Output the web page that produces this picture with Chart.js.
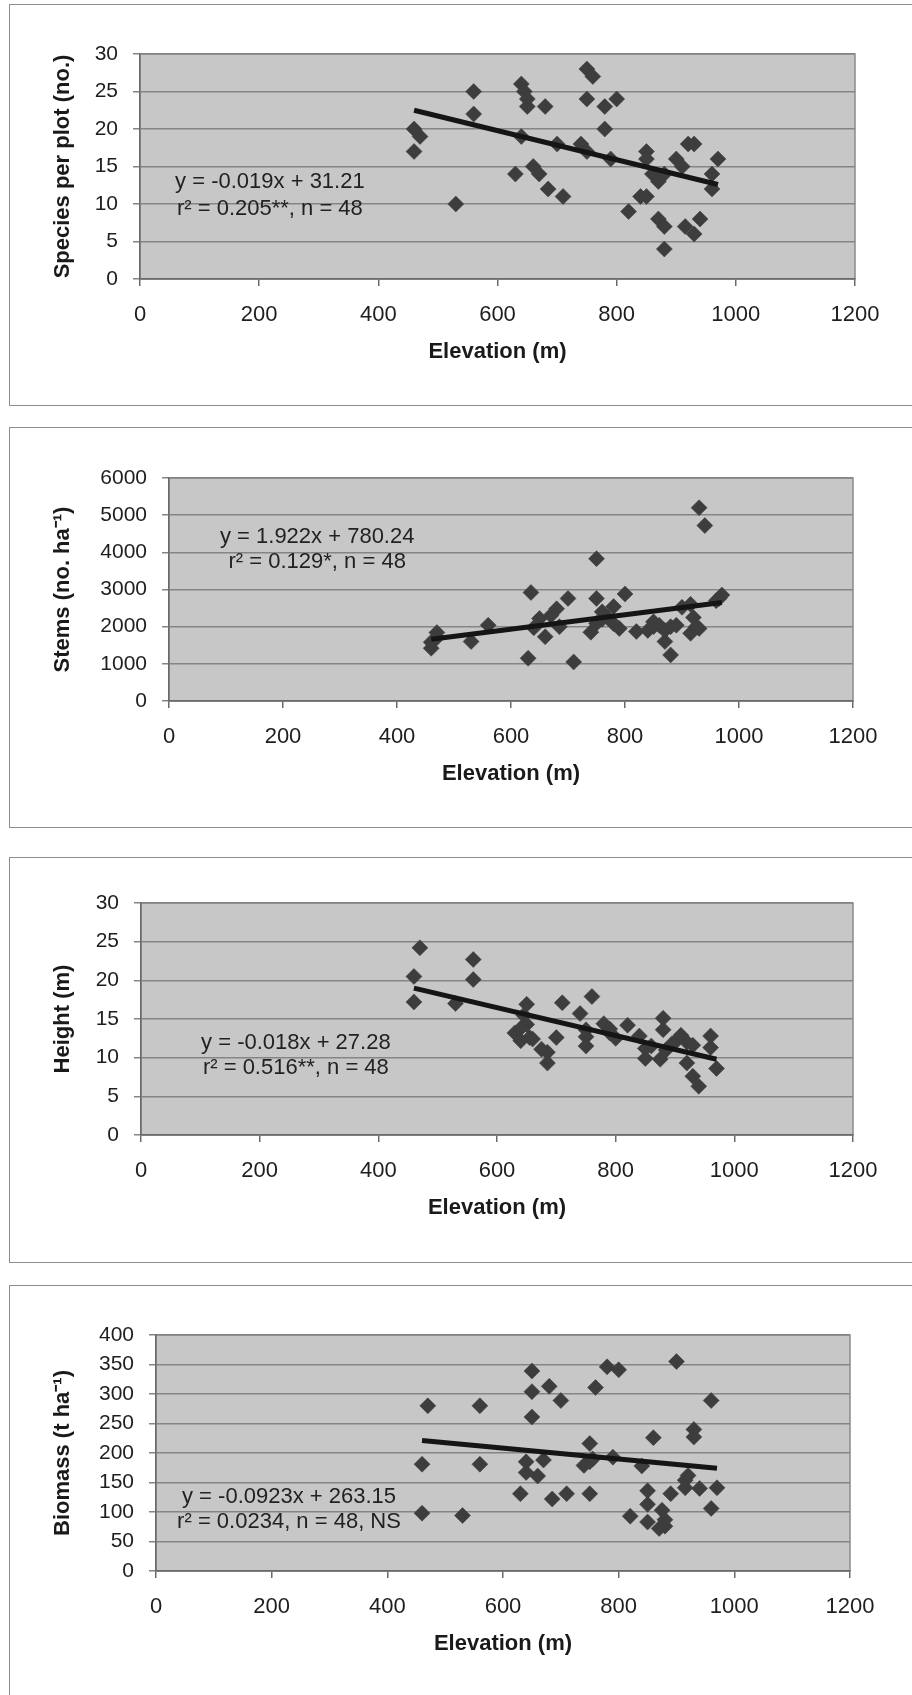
<!DOCTYPE html>
<html>
<head>
<meta charset="utf-8">
<script src="https://cdn.jsdelivr.net/npm/chart.js@4.4.1/dist/chart.umd.min.js"></script>
<style>
  html, body { margin: 0; padding: 0; background: #fff; width: 912px; height: 1695px; overflow: hidden; }
  .panel { position: absolute; left: 9px; width: 930px; border: 1.5px solid #8e8e8e; box-sizing: border-box; }
  canvas { position: absolute; left: 0; }
</style>
</head>
<body>
<div class="panel" style="top:4px;height:402px"></div>
<div class="panel" style="top:427px;height:401px"></div>
<div class="panel" style="top:857px;height:406px"></div>
<div class="panel" style="top:1285px;height:480px"></div>
<canvas id="speciesChart" width="912" height="401" style="top:4px"></canvas>
<canvas id="stemsChart" width="912" height="400" style="top:427px"></canvas>
<canvas id="heightChart" width="912" height="405" style="top:857px"></canvas>
<canvas id="biomassChart" width="912" height="410" style="top:1285px"></canvas>
<script>
// Eje X común
const elevationTicks = [0, 200, 400, 600, 800, 1000, 1200];

// Especies por parcela
const speciesElev = [460, 470, 460, 560, 560, 530, 640, 645, 650, 650, 680, 640, 630, 660, 670, 685, 710, 700, 750, 760, 750, 780, 800, 780, 740, 750, 790, 820, 840, 850, 850, 850, 860, 870, 880, 870, 880, 880, 900, 910, 920, 930, 915, 930, 940, 970, 960, 960];
const speciesPerPlot = [20, 19, 17, 25, 22, 10, 26, 25, 24, 23, 23, 19, 14, 15, 14, 12, 11, 18, 28, 27, 24, 23, 24, 20, 18, 17, 16, 9, 11, 11, 17, 16, 14, 13, 14, 8, 7, 4, 16, 15, 18, 18, 7, 6, 8, 16, 14, 12];
const speciesTrendX = [460, 970];
const speciesTrendY = [22.5, 12.6];

// Tallos por hectárea
const stemsElev = [460, 460, 470, 470, 530, 560, 630, 635, 640, 650, 660, 670, 680, 685, 700, 710, 740, 750, 750, 750, 760, 770, 780, 780, 790, 800, 820, 840, 850, 860, 870, 870, 880, 880, 890, 900, 915, 915, 920, 930, 940, 930, 925, 960, 970, 965, 850, 760];
const stemsPerHa = [1420, 1580, 1840, 1700, 1600, 2040, 1150, 2920, 1970, 2220, 1730, 2300, 2480, 2000, 2760, 1050, 1850, 3830, 2760, 2090, 2400, 2250, 2540, 2080, 1950, 2880, 1870, 1900, 2130, 2040, 1600, 1900, 1240, 2000, 2040, 2520, 2600, 1820, 2250, 5200, 4720, 1950, 2000, 2700, 2850, 2760, 2000, 2200];
const stemsTrendX = [460, 970];
const stemsTrendY = [1660, 2650];

// Altura
const heightElev = [470, 460, 460, 560, 560, 530, 650, 645, 650, 630, 640, 655, 640, 675, 685, 685, 710, 700, 740, 750, 750, 750, 760, 780, 790, 800, 820, 840, 850, 850, 880, 880, 875, 885, 900, 910, 920, 920, 930, 940, 960, 960, 970, 930, 860, 790, 895, 660];
const heightM = [24.2, 20.5, 17.2, 22.7, 20.1, 17.0, 16.9, 15.5, 14.3, 13.2, 12.2, 12.6, 13.8, 11.1, 10.7, 9.3, 17.1, 12.6, 15.7, 13.6, 12.7, 11.5, 17.9, 14.4, 13.7, 12.5, 14.2, 12.8, 11.2, 9.9, 15.1, 13.6, 9.8, 11.0, 12.0, 12.9, 12.0, 9.3, 7.6, 6.3, 12.8, 11.3, 8.6, 11.6, 11.5, 13.2, 11.8, 12.4];
const heightTrendX = [460, 970];
const heightTrendY = [19.0, 9.8];

// Biomasa
const biomassElev = [470, 460, 460, 530, 560, 560, 650, 650, 650, 680, 700, 640, 640, 630, 660, 670, 685, 710, 750, 740, 750, 750, 760, 780, 800, 790, 840, 860, 820, 850, 850, 850, 875, 880, 870, 880, 890, 900, 920, 915, 915, 930, 930, 940, 960, 960, 970, 755];
const biomassTHa = [280, 181, 98, 94, 280, 181, 339, 304, 261, 313, 289, 185, 167, 131, 161, 188, 122, 131, 216, 179, 185, 131, 311, 346, 341, 193, 178, 226, 93, 136, 113, 83, 103, 87, 72, 76, 131, 355, 162, 154, 141, 240, 227, 140, 289, 106, 141, 190];
const biomassTrendX = [460, 970];
const biomassTrendY = [221, 174];

const FONT = '"Liberation Sans", Arial, sans-serif';
Chart.defaults.font.family = FONT;
Chart.defaults.color = '#1e1e1e';

// Fondo gris del área de trazado y texto de la ecuación
const plotAreaPlugin = {
    id: 'plotArea',
    beforeDraw(chart) {
        const {ctx, chartArea: a} = chart;
        ctx.save();
        ctx.fillStyle = '#c7c7c7';
        ctx.fillRect(a.left, a.top, a.right - a.left, a.bottom - a.top);
        ctx.strokeStyle = '#8a8a8a';
        ctx.lineWidth = 1.5;
        ctx.strokeRect(a.left, a.top, a.right - a.left, a.bottom - a.top);
        ctx.restore();
    },
    afterDatasetsDraw(chart, args, opts) {
        if (!opts.lines) return;
        const {ctx, scales} = chart;
        ctx.save();
        ctx.font = '22px ' + FONT;
        ctx.fillStyle = '#222';
        ctx.textAlign = 'center';
        ctx.textBaseline = 'middle';
        const x = scales.x.getPixelForValue(opts.x);
        opts.lines.forEach((line, i) => {
            ctx.fillText(line, x, scales.y.getPixelForValue(opts.y[i]));
        });
        ctx.restore();
    }
};

function makePanel(cfg) {
    const ctx = document.getElementById(cfg.id).getContext('2d');
    const h = ctx.canvas.height;
    const xAxisH = 90;
    const padLeft = 40;
    return new Chart(ctx, {
        type: 'scatter',
        data: {
            datasets: [{
                data: cfg.trendX.map((x, i) => ({x: x, y: cfg.trendY[i]})),
                showLine: true,
                pointRadius: 0,
                borderColor: '#151515',
                borderWidth: 5,
                order: 0
            }, {
                data: cfg.elev.map((x, i) => ({x: x, y: cfg.values[i]})),
                pointStyle: 'rectRot',
                pointRadius: 8,
                backgroundColor: '#3d3d3d',
                borderColor: '#3d3d3d',
                borderWidth: 0.5,
                order: 1
            }]
        },
        options: {
            responsive: false,
            animation: false,
            devicePixelRatio: 1,
            layout: {
                padding: {
                    top: cfg.area.top,
                    left: padLeft,
                    right: 912 - cfg.area.right,
                    bottom: h - cfg.area.bottom - xAxisH
                }
            },
            plugins: {
                legend: { display: false },
                tooltip: { enabled: false },
                plotArea: cfg.equation
            },
            scales: {
                x: {
                    type: 'linear',
                    min: 0,
                    max: 1200,
                    afterBuildTicks: scale => { scale.ticks = elevationTicks.map(v => ({value: v})); },
                    afterFit: scale => { scale.height = xAxisH; },
                    ticks: {
                        padding: 16,
                        font: { size: 22 },
                        callback: v => String(v)
                    },
                    grid: { drawOnChartArea: false, drawTicks: true, tickLength: 7, color: '#6a6a6a', lineWidth: 1.5 },
                    border: { color: '#6a6a6a', width: 1.5 },
                    title: {
                        display: true,
                        text: 'Elevation (m)',
                        font: { size: 22, weight: 'bold' },
                        color: '#1a1a1a',
                        padding: { top: 0, bottom: 4 }
                    }
                },
                y: {
                    type: 'linear',
                    min: 0,
                    max: cfg.yMax,
                    afterBuildTicks: scale => { scale.ticks = cfg.yTicks.map(v => ({value: v})); },
                    afterFit: scale => { scale.width = cfg.area.left - padLeft; },
                    ticks: {
                        padding: 15,
                        font: { size: 21 },
                        callback: v => String(v)
                    },
                    grid: { color: '#858585', lineWidth: 1.5, drawTicks: true, tickLength: 7 },
                    border: { color: '#6a6a6a', width: 1.5 },
                    title: {
                        display: true,
                        text: cfg.yTitle,
                        font: { size: 22, weight: 'bold' },
                        color: '#1a1a1a',
                        padding: { top: 10, bottom: 0 }
                    }
                }
            }
        },
        plugins: [plotAreaPlugin]
    });
}

makePanel({
    id: 'speciesChart',
    elev: speciesElev, values: speciesPerPlot,
    trendX: speciesTrendX, trendY: speciesTrendY,
    yMax: 30, yTicks: [0, 5, 10, 15, 20, 25, 30],
    yTitle: 'Species per plot (no.)',
    area: { left: 140, right: 855, top: 50, bottom: 275 },
    equation: { x: 218, y: [12.93, 9.33], lines: ['y = -0.019x + 31.21', 'r\u00b2 = 0.205**, n = 48'] }
});

makePanel({
    id: 'stemsChart',
    elev: stemsElev, values: stemsPerHa,
    trendX: stemsTrendX, trendY: stemsTrendY,
    yMax: 6000, yTicks: [0, 1000, 2000, 3000, 4000, 5000, 6000],
    yTitle: 'Stems (no. ha\u207b\u00b9)',
    area: { left: 169, right: 853, top: 51, bottom: 274 },
    equation: { x: 260, y: [4413, 3740], lines: ['y = 1.922x + 780.24', 'r\u00b2 = 0.129*, n = 48'] }
});

makePanel({
    id: 'heightChart',
    elev: heightElev, values: heightM,
    trendX: heightTrendX, trendY: heightTrendY,
    yMax: 30, yTicks: [0, 5, 10, 15, 20, 25, 30],
    yTitle: 'Height (m)',
    area: { left: 141, right: 853, top: 46, bottom: 278 },
    equation: { x: 261, y: [11.9, 8.66], lines: ['y = -0.018x + 27.28', 'r\u00b2 = 0.516**, n = 48'] }
});

makePanel({
    id: 'biomassChart',
    elev: biomassElev, values: biomassTHa,
    trendX: biomassTrendX, trendY: biomassTrendY,
    yMax: 400, yTicks: [0, 50, 100, 150, 200, 250, 300, 350, 400],
    yTitle: 'Biomass (t ha\u207b\u00b9)',
    area: { left: 156, right: 850, top: 50, bottom: 286 },
    equation: { x: 230, y: [125.4, 83], lines: ['y = -0.0923x + 263.15', 'r\u00b2 = 0.0234, n = 48, NS'] }
});
</script>
</body>
</html>
